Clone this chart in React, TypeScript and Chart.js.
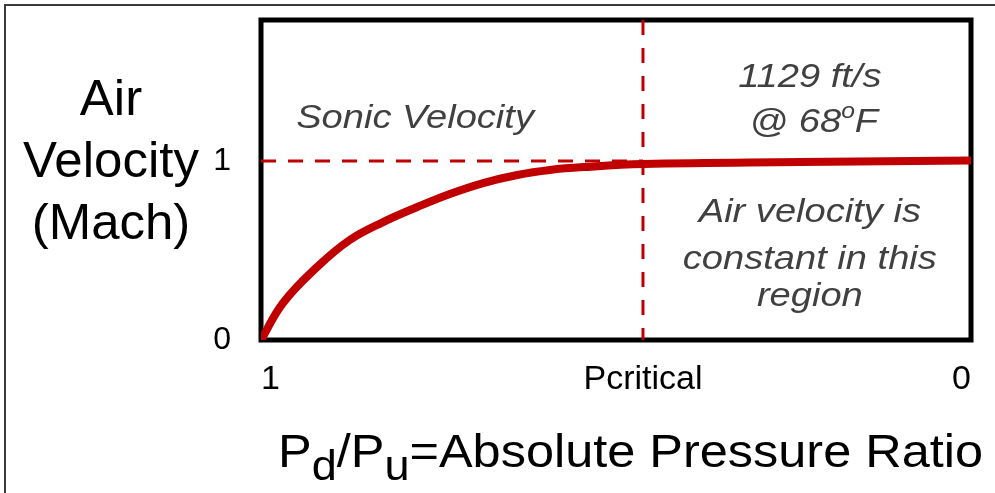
import React, { useEffect, useRef } from 'react';
import { Chart, registerables } from 'chart.js';

Chart.register(...registerables);

// ---- data ----
const PRESSURE_RATIO = [1, 0.969, 0.921, 0.875, 0.828, 0.78, 0.734, 0.687, 0.639, 0.593, 0.546, 0.462, 0.241, 0];
const MACH = [0, 0.207, 0.408, 0.559, 0.659, 0.743, 0.816, 0.877, 0.922, 0.95, 0.966, 0.983, 0.994, 1.003];
const P_CRITICAL = 0.462;
const SONIC_MACH = 1;
const Y_MAX = 1.788;
const X_TICK_VALUES = [0, P_CRITICAL, 1];
const X_TICK_LABELS = ['0', 'Pcritical', '1'];
const Y_TICK_VALUES = [0, 1];
const Y_TICK_LABELS = ['0', '1'];
const Y_TITLE_LINES = ['Air', 'Velocity', '(Mach)'];
const SONIC_LABEL = 'Sonic Velocity';
const SPEED_LABEL = '1129 ft/s';
const TEMP_LABEL = ['@ 68', 'o', 'F'];
const NOTE_LINES = ['Air velocity is', 'constant in this', 'region'];
const X_TITLE = ['P', 'd', '/P', 'u', '=Absolute Pressure Ratio'];

const RED = '#C00000';
const GREY = '#404040';
const FAMILY = "'Liberation Sans', Arial, Helvetica, sans-serif";

type Seg = { text: string; size: number; dy?: number; italic?: boolean };

function fontOf(size: number, italic?: boolean) {
  return `${italic ? 'italic ' : ''}${size}px ${FAMILY}`;
}

function drawRun(
  ctx: CanvasRenderingContext2D,
  segs: Seg[],
  x: number,
  baseline: number,
  opts: { align: 'left' | 'center'; scaleX?: number; width?: number; color: string }
) {
  ctx.save();
  let total = 0;
  for (const s of segs) {
    ctx.font = fontOf(s.size, s.italic);
    total += ctx.measureText(s.text).width;
  }
  const sx = opts.width ? opts.width / total : opts.scaleX ?? 1;
  const start = opts.align === 'center' ? x - (total * sx) / 2 : x;
  ctx.translate(start, baseline);
  ctx.scale(sx, 1);
  ctx.fillStyle = opts.color;
  ctx.textAlign = 'left';
  ctx.textBaseline = 'alphabetic';
  let cx = 0;
  for (const s of segs) {
    ctx.font = fontOf(s.size, s.italic);
    ctx.fillText(s.text, cx, s.dy ?? 0);
    cx += ctx.measureText(s.text).width;
  }
  ctx.restore();
}

const decorPlugin = {
  id: 'decor',
  beforeDraw(chart: any) {
    const ctx = chart.ctx as CanvasRenderingContext2D;
    ctx.save();
    ctx.fillStyle = '#3a3a3a';
    ctx.fillRect(4, 4, chart.width - 4, 2);
    ctx.fillRect(4, 4, 2, chart.height - 4);
    ctx.restore();
  },
  beforeDatasetsDraw(chart: any) {
    const ctx = chart.ctx as CanvasRenderingContext2D;
    const a = chart.chartArea;
    ctx.save();
    ctx.strokeStyle = '#000';
    ctx.lineWidth = 5;
    ctx.lineJoin = 'miter';
    ctx.strokeRect(a.left, a.top, a.right - a.left, a.bottom - a.top);
    ctx.restore();
  },
  afterDraw(chart: any) {
    const ctx = chart.ctx as CanvasRenderingContext2D;
    const xs = chart.scales.x;
    const ys = chart.scales.y;

    // y-axis title (horizontal, three lines)
    const yBase = [115, 177, 239];
    Y_TITLE_LINES.forEach((t, i) =>
      drawRun(ctx, [{ text: t, size: 50 }], 111, yBase[i], { align: 'center', scaleX: 1.02, color: '#000' })
    );

    // x-axis title with subscripts
    drawRun(
      ctx,
      [
        { text: X_TITLE[0], size: 47 },
        { text: X_TITLE[1], size: 42, dy: 13 },
        { text: X_TITLE[2], size: 47 },
        { text: X_TITLE[3], size: 42, dy: 13 },
        { text: X_TITLE[4], size: 47 },
      ],
      278,
      467,
      { align: 'left', width: 705, color: '#000' }
    );

    // annotations (anchored in data coordinates)
    const it = (t: string): Seg[] => [{ text: t, size: 34, italic: true }];
    const opt = { align: 'center' as const, scaleX: 1.12, color: GREY };
    drawRun(ctx, it(SONIC_LABEL), xs.getPixelForValue(0.783), ys.getPixelForValue(1.184), opt);
    const rx = xs.getPixelForValue(0.227);
    drawRun(ctx, it(SPEED_LABEL), rx, ys.getPixelForValue(1.413), opt);
    drawRun(
      ctx,
      [
        { text: TEMP_LABEL[0], size: 34, italic: true },
        { text: TEMP_LABEL[1], size: 22, italic: true, dy: -14 },
        { text: TEMP_LABEL[2], size: 34, italic: true },
      ],
      rx + 4,
      ys.getPixelForValue(1.162),
      opt
    );
    const noteY = [0.659, 0.397, 0.19];
    NOTE_LINES.forEach((t, i) => drawRun(ctx, it(t), rx, ys.getPixelForValue(noteY[i]), opt));
  },
};

export default function App() {
  const ref = useRef<HTMLCanvasElement | null>(null);

  useEffect(() => {
    if (!ref.current) return;
    const chart = new Chart(ref.current, {
      type: 'line',
      data: {
        datasets: [
          {
            data: PRESSURE_RATIO.map((x, i) => ({ x, y: MACH[i] })),
            borderColor: RED,
            borderWidth: 8,
            pointRadius: 0,
            tension: 0.4,
            fill: false,
          },
          {
            data: [
              { x: 1, y: SONIC_MACH },
              { x: P_CRITICAL, y: SONIC_MACH },
            ],
            borderColor: RED,
            borderWidth: 3,
            borderDash: [15, 12],
            pointRadius: 0,
            fill: false,
          },
          {
            data: [
              { x: P_CRITICAL, y: Y_MAX },
              { x: P_CRITICAL, y: 0 },
            ],
            borderColor: RED,
            borderWidth: 3,
            borderDash: [15, 13],
            pointRadius: 0,
            fill: false,
          },
        ],
      },
      options: {
        responsive: false,
        animation: false,
        events: [],
        layout: { padding: { left: 0, top: 20, right: 24, bottom: 0 } },
        plugins: { legend: { display: false }, tooltip: { enabled: false }, title: { display: false } },
        scales: {
          x: {
            type: 'linear',
            min: 0,
            max: 1,
            reverse: true,
            grid: { display: false },
            border: { display: false },
            afterBuildTicks: (s: any) => {
              s.ticks = X_TICK_VALUES.map((value) => ({ value }));
            },
            afterFit: (s: any) => {
              s.height = 153;
              s.paddingLeft = 0;
              s.paddingRight = 0;
            },
            ticks: {
              align: 'inner',
              padding: 11,
              color: '#000',
              font: { family: FAMILY, size: 34 },
              maxRotation: 0,
              autoSkip: false,
              callback: (v: any) => X_TICK_LABELS[X_TICK_VALUES.indexOf(v)] ?? '',
            },
          },
          y: {
            type: 'linear',
            min: 0,
            max: Y_MAX,
            grid: { display: false },
            border: { display: false },
            afterBuildTicks: (s: any) => {
              s.ticks = Y_TICK_VALUES.map((value) => ({ value }));
            },
            afterFit: (s: any) => {
              s.width = 261;
              s.paddingTop = 0;
              s.paddingBottom = 0;
            },
            ticks: {
              padding: 22,
              color: '#000',
              font: { family: FAMILY, size: 32 },
              callback: (v: any) => Y_TICK_LABELS[Y_TICK_VALUES.indexOf(v)] ?? '',
            },
          },
        },
      } as any,
      plugins: [decorPlugin],
    });
    return () => chart.destroy();
  }, []);

  return (
    <div style={{ position: 'absolute', left: 0, top: 0, width: 995, height: 493, background: '#fff' }}>
      <canvas ref={ref} width={995} height={493} style={{ display: 'block' }} />
    </div>
  );
}
